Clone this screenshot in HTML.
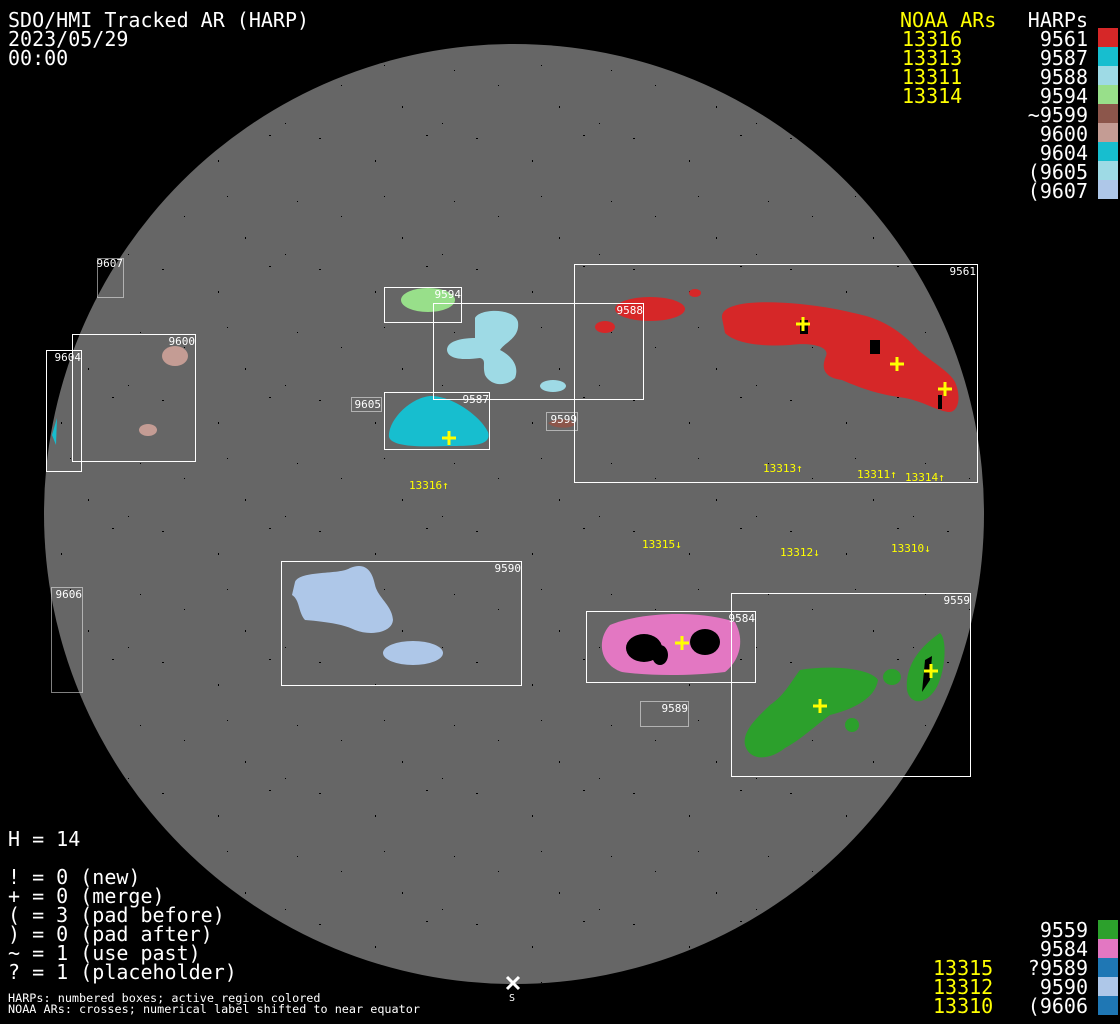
<!DOCTYPE html>
<html><head><meta charset="utf-8"><style>
html,body{margin:0;padding:0;background:#000;}
svg{display:block}
.m{font-family:"DejaVu Sans Mono","Liberation Mono",monospace;}
</style></head><body>
<svg width="1120" height="1024" viewBox="0 0 1120 1024" xmlns="http://www.w3.org/2000/svg">
<defs>
<pattern id="sp" width="157" height="131" patternUnits="userSpaceOnUse">
<rect x="5" y="7" width="2" height="1" fill="#000"/><rect x="61" y="29" width="1" height="2" fill="#000"/>
<rect x="112" y="4" width="2" height="1" fill="#000"/><rect x="140" y="70" width="1" height="1" fill="#000"/>
<rect x="27" y="85" width="1" height="1" fill="#000"/><rect x="88" y="106" width="1" height="2" fill="#000"/>
<rect x="128" y="123" width="1" height="1" fill="#000"/><rect x="70" y="65" width="1" height="1" fill="#000"/>
</pattern>
<clipPath id="disk"><circle cx="514" cy="514" r="470"/></clipPath>
</defs>
<rect width="1120" height="1024" fill="#000"/>
<circle cx="514" cy="514" r="470" fill="#666"/>
<rect width="1120" height="1024" fill="url(#sp)" clip-path="url(#disk)"/>

<g fill="#d62728">
<path d="M722,318 C720,302 760,300 800,304 C830,307 850,312 862,315 C885,320 905,335 918,350 C932,362 950,372 955,382 C962,398 958,413 948,412 C935,410 925,402 905,398 C880,395 860,388 842,380 C826,378 820,370 826,356 C830,347 812,342 790,345 C760,347 735,343 725,333 Z"/>
<ellipse cx="650" cy="309" rx="35" ry="12"/>
<ellipse cx="605" cy="327" rx="10" ry="6"/>
<ellipse cx="695" cy="293" rx="6" ry="4"/>
</g>
<g fill="#9edae5">
<path d="M475,318 C480,308 515,308 518,322 C520,338 505,342 500,350 C510,355 520,365 515,378 C505,388 490,385 485,375 C482,365 487,360 480,358 C465,360 448,360 447,350 C447,340 465,338 475,338 Z"/>
<ellipse cx="553" cy="386" rx="13" ry="6"/>
</g>
<ellipse cx="428" cy="300" rx="27" ry="12" fill="#98df8a"/>
<path d="M430,396 C450,395 480,415 488,432 C492,445 475,446 450,446 C420,447 392,447 389,437 C388,420 410,398 430,396 Z" fill="#17becf"/>
<path d="M548,423 C555,418 572,418 575,424 C573,429 553,429 548,423 Z" fill="#8c564b"/>
<ellipse cx="175" cy="356" rx="13" ry="10" fill="#c49c94"/>
<ellipse cx="148" cy="430" rx="9" ry="6" fill="#c49c94"/>
<path d="M52,435 L57,418 L56,445 Z" fill="#17becf"/>
<g fill="#aec7e8">
<path d="M295,582 C300,570 340,575 350,568 C365,562 372,570 375,585 C378,598 392,605 393,620 C392,633 370,636 355,630 C345,625 330,622 305,620 C298,612 300,600 292,595 Z"/>
<ellipse cx="413" cy="653" rx="30" ry="12"/>
</g>
<path d="M610,625 C640,612 700,610 735,622 C745,640 740,660 725,672 C690,676 650,676 622,672 C600,665 596,640 610,625 Z" fill="#e377c2"/>
<g fill="#000"><ellipse cx="644" cy="648" rx="18" ry="14"/><ellipse cx="705" cy="642" rx="15" ry="13"/><ellipse cx="660" cy="655" rx="8" ry="10"/></g>
<g fill="#2ca02c">
<path d="M800,670 C830,665 870,668 878,680 C875,700 850,710 830,715 C810,730 800,740 785,748 C770,760 750,762 745,745 C742,730 760,715 770,705 C785,695 792,680 800,670 Z"/>
<path d="M940,633 C948,640 945,675 935,690 C925,705 910,705 907,690 C905,670 915,650 940,633 Z"/>
<ellipse cx="892" cy="677" rx="9" ry="8"/>
<ellipse cx="852" cy="725" rx="7" ry="7"/>
</g>
<g fill="#000"><path d="M925,660 L932,656 L930,680 L922,692 Z"/><rect x="800" y="320" width="8" height="14"/><rect x="870" y="340" width="10" height="14"/><rect x="938" y="395" width="4" height="14"/></g>

<g fill="none" stroke="#fff" stroke-width="1">
<rect x="574.5" y="264.5" width="403" height="218"/>
<rect x="433.5" y="303.5" width="210" height="96"/>
<rect x="384.5" y="287.5" width="77" height="35"/>
<rect x="384.5" y="392.5" width="105" height="57"/>
<rect x="72.5" y="334.5" width="123" height="127"/>
<rect x="46.5" y="350.5" width="35" height="121"/>
<rect x="281.5" y="561.5" width="240" height="124"/>
<rect x="586.5" y="611.5" width="169" height="71"/>
<rect x="731.5" y="593.5" width="239" height="183"/>
</g>
<g fill="none" stroke="#fff" stroke-width="1" stroke-dasharray="1,1">
<rect x="97.5" y="258.5" width="26" height="39"/>
<rect x="351.5" y="397.5" width="30" height="14"/>
<rect x="546.5" y="412.5" width="31" height="18"/>
<rect x="640.5" y="701.5" width="48" height="25"/>
<rect x="51.5" y="587.5" width="31" height="105"/>
</g>
<g class="m" fill="#fff" font-size="11" text-anchor="end">
<text x="976" y="275">9561</text><text x="643" y="314">9588</text><text x="461" y="298">9594</text>
<text x="489" y="403">9587</text><text x="195" y="345">9600</text><text x="81" y="361">9604</text>
<text x="123" y="267">9607</text><text x="381" y="408">9605</text><text x="577" y="423">9599</text>
<text x="521" y="572">9590</text><text x="755" y="622">9584</text><text x="970" y="604">9559</text>
<text x="688" y="712">9589</text><text x="82" y="598">9606</text>
</g>
<g stroke="#ff0" stroke-width="3">
<path d="M796,324h14M803,317v14"/><path d="M890,364h14M897,357v14"/><path d="M938,389h14M945,382v14"/>
<path d="M442,438h14M449,431v14"/><path d="M675,643h14M682,636v14"/><path d="M813,706h14M820,699v14"/><path d="M924,671h14M931,664v14"/>
</g>
<g class="m" fill="#ff0" font-size="11">
<text x="409" y="489">13316↑</text><text x="763" y="472">13313↑</text><text x="857" y="478">13311↑</text><text x="905" y="481">13314↑</text>
<text x="642" y="548">13315↓</text><text x="780" y="556">13312↓</text><text x="891" y="552">13310↓</text>
</g>
<path d="M507,977l12,12M519,977l-12,12" stroke="#fff" stroke-width="3"/>
<text class="m" x="509" y="1001" fill="#fff" font-size="10">S</text>

<g class="m" fill="#fff" font-size="20">
<text x="8" y="27">SDO/HMI Tracked AR (HARP)</text><text x="8" y="46">2023/05/29</text><text x="8" y="65">00:00</text>
</g>
<g class="m" fill="#ff0" font-size="20">
<text x="900" y="27">NOAA ARs</text><text x="902" y="46">13316</text><text x="902" y="65">13313</text><text x="902" y="84">13311</text><text x="902" y="103">13314</text>
<text x="933" y="975">13315</text><text x="933" y="994">13312</text><text x="933" y="1013">13310</text>
</g>
<g class="m" fill="#fff" font-size="20" text-anchor="end">
<text x="1088" y="27">HARPs</text><text x="1088" y="46">9561</text><text x="1088" y="65">9587</text><text x="1088" y="84">9588</text><text x="1088" y="103">9594</text>
<text x="1088" y="122">~9599</text><text x="1088" y="141">9600</text><text x="1088" y="160">9604</text><text x="1088" y="179">(9605</text><text x="1088" y="198">(9607</text>
<text x="1088" y="937">9559</text><text x="1088" y="956">9584</text><text x="1088" y="975">?9589</text><text x="1088" y="994">9590</text><text x="1088" y="1013">(9606</text>
</g>
<g>
<rect x="1098" y="28" width="20" height="19" fill="#d62728"/><rect x="1098" y="47" width="20" height="19" fill="#17becf"/>
<rect x="1098" y="66" width="20" height="19" fill="#9edae5"/><rect x="1098" y="85" width="20" height="19" fill="#98df8a"/>
<rect x="1098" y="104" width="20" height="19" fill="#8c564b"/><rect x="1098" y="123" width="20" height="19" fill="#c49c94"/>
<rect x="1098" y="142" width="20" height="19" fill="#17becf"/><rect x="1098" y="161" width="20" height="19" fill="#9edae5"/>
<rect x="1098" y="180" width="20" height="19" fill="#aec7e8"/>
<rect x="1098" y="920" width="20" height="19" fill="#2ca02c"/><rect x="1098" y="939" width="20" height="19" fill="#e377c2"/>
<rect x="1098" y="958" width="20" height="19" fill="#1f77b4"/><rect x="1098" y="977" width="20" height="19" fill="#aec7e8"/>
<rect x="1098" y="996" width="20" height="19" fill="#1f77b4"/>
</g>
<g class="m" fill="#fff" font-size="20">
<text x="8" y="846">H = 14</text>
<text x="8" y="884">! = 0 (new)</text><text x="8" y="903">+ = 0 (merge)</text><text x="8" y="922">( = 3 (pad before)</text>
<text x="8" y="941">) = 0 (pad after)</text><text x="8" y="960">~ = 1 (use past)</text><text x="8" y="979">? = 1 (placeholder)</text>
</g>
<g class="m" fill="#fff" font-size="11.8">
<text x="8" y="1002">HARPs: numbered boxes; active region colored</text>
<text x="8" y="1013">NOAA ARs: crosses; numerical label shifted to near equator</text>
</g>
</svg>
</body></html>
